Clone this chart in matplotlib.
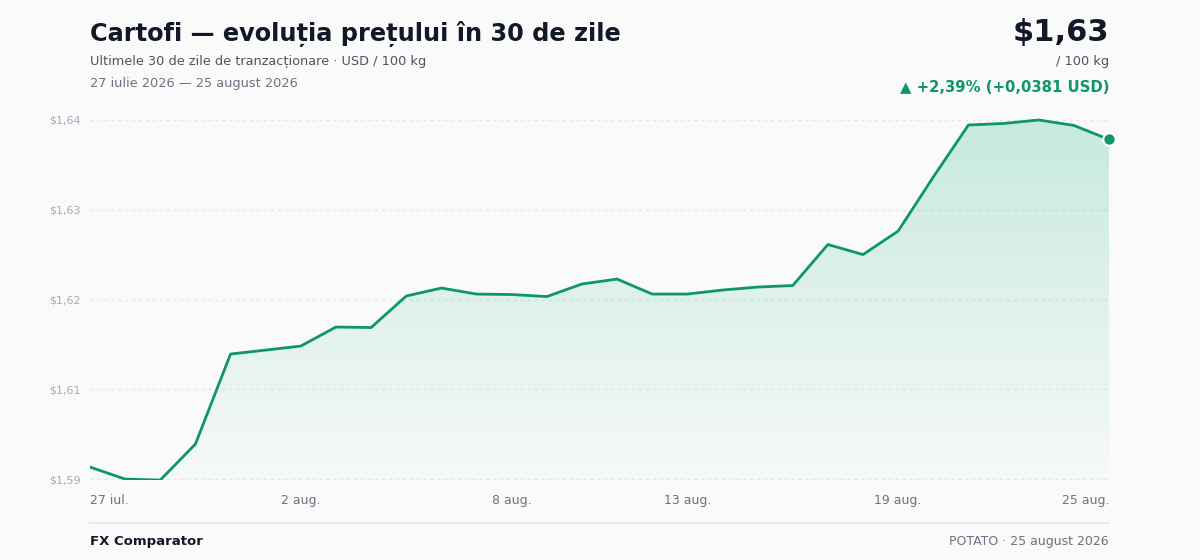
import numpy as np
import matplotlib
matplotlib.use("Agg")
import matplotlib.pyplot as plt
from matplotlib.patches import Polygon

# prices (USD / 100 kg)
days = ["27 iul.", "28 iul.", "29 iul.", "30 iul.", "31 iul.", "1 aug.",
        "2 aug.", "3 aug.", "4 aug.", "5 aug.", "6 aug.", "7 aug.",
        "8 aug.", "9 aug.", "10 aug.", "11 aug.", "12 aug.", "13 aug.",
        "14 aug.", "15 aug.", "16 aug.", "17 aug.", "18 aug.", "19 aug.",
        "20 aug.", "21 aug.", "22 aug.", "23 aug.", "24 aug.", "25 aug."]
prices = [1.60134, 1.60000, 1.59989, 1.60390, 1.61393, 1.61437,
          1.61482, 1.61694, 1.61688, 1.62039, 1.62128, 1.62061,
          1.62056, 1.62033, 1.62173, 1.62228, 1.62061, 1.62061,
          1.62106, 1.62139, 1.62156, 1.62613, 1.62501, 1.62763,
          1.63365, 1.63944, 1.63961, 1.64000, 1.63939, 1.63783]
xtick_idx = [0, 6, 12, 17, 23, 29]
ytick_vals = [1.60, 1.61, 1.62, 1.63, 1.64]
ytick_labels = ["$1,59", "$1,61", "$1,62", "$1,63", "$1,64"]

GREEN = "#0e9669"
BG = "#fafafa"

fig = plt.figure(figsize=(12, 5.6), dpi=100, facecolor=BG)
y_lo, y_hi = 1.5999, 1.6412
ax = fig.add_axes([90 / 1200, 1 - 480 / 560, 1019 / 1200, (480 - 109.2) / 560])
ax.set_facecolor(BG)
x = np.arange(len(prices))
ax.set_xlim(0, len(prices) - 1)
ax.set_ylim(y_lo, y_hi)

# gradient fill under the line
verts = [(0, y_lo)] + list(zip(x, prices)) + [(x[-1], y_lo)]
poly = Polygon(verts, closed=True, facecolor="none", edgecolor="none")
ax.add_patch(poly)
grad = np.linspace(0.22, 0.02, 256).reshape(-1, 1)
rgba = np.zeros((256, 1, 4))
rgba[..., :3] = matplotlib.colors.to_rgb("#14b27a")
rgba[..., 3] = grad
img = ax.imshow(rgba, extent=[0, x[-1], y_lo, max(prices)], origin="upper",
                aspect="auto", zorder=1)
img.set_clip_path(poly)

ax.plot(x, prices, color=GREEN, lw=2, zorder=3, solid_joinstyle="round")
ax.scatter([x[-1]], [prices[-1]], s=80, color=GREEN, edgecolor="white",
           linewidth=1.5, zorder=4, clip_on=False)

for v in ytick_vals:
    ax.axhline(v, color="#e3e6ea", lw=1, ls=(0, (2, 3)), zorder=0)
ax.set_yticks(ytick_vals)
ax.set_yticklabels(ytick_labels)
ax.tick_params(axis="y", length=0, pad=7, labelsize=8, labelcolor="#a3aab8")

for s in ax.spines.values():
    s.set_visible(False)
ax.set_xticks([])

for i in xtick_idx:
    ha = "left" if i == 0 else ("right" if i == len(prices) - 1 else "center")
    ax.annotate(days[i], (i, y_lo), xytext=(0, -15), textcoords="offset points",
                ha=ha, va="center", fontsize=9, color="#6b7280")

# header
fig.text(90 / 1200, 1 - 34 / 560, "Cartofi — evoluția prețului în 30 de zile",
         fontsize=17.3, fontweight="bold", color="#111827", va="center")
fig.text(90 / 1200, 1 - 61 / 560, "Ultimele 30 de zile de tranzacționare · USD / 100 kg",
         fontsize=9.3, color="#4b5563", va="center")
fig.text(90 / 1200, 1 - 83 / 560, "27 iulie 2026 — 25 august 2026",
         fontsize=9.3, color="#6b7280", va="center")
fig.text(1109 / 1200, 1 - 33 / 560, "$1,63", fontsize=22, fontweight="bold",
         color="#111827", va="center", ha="right")
fig.text(1109 / 1200, 1 - 61 / 560, "/ 100 kg", fontsize=9.3, color="#4b5563",
         va="center", ha="right")
fig.text(1109 / 1200, 1 - 87 / 560, "▲ +2,39% (+0,0381 USD)", fontsize=10.7,
         fontweight="bold", color=GREEN, va="center", ha="right")

# footer
fig.add_artist(plt.Line2D([90 / 1200, 1109 / 1200], [1 - 523 / 560] * 2,
                          color="#e8eaed", lw=1.5))
fig.text(90 / 1200, 1 - 541 / 560, "FX Comparator", fontsize=9.5,
         fontweight="bold", color="#111827", va="center")
fig.text(1109 / 1200, 1 - 541 / 560, "POTATO · 25 august 2026", fontsize=9,
         color="#6b7280", va="center", ha="right")

fig.savefig("out.png", dpi=100, facecolor=BG)
